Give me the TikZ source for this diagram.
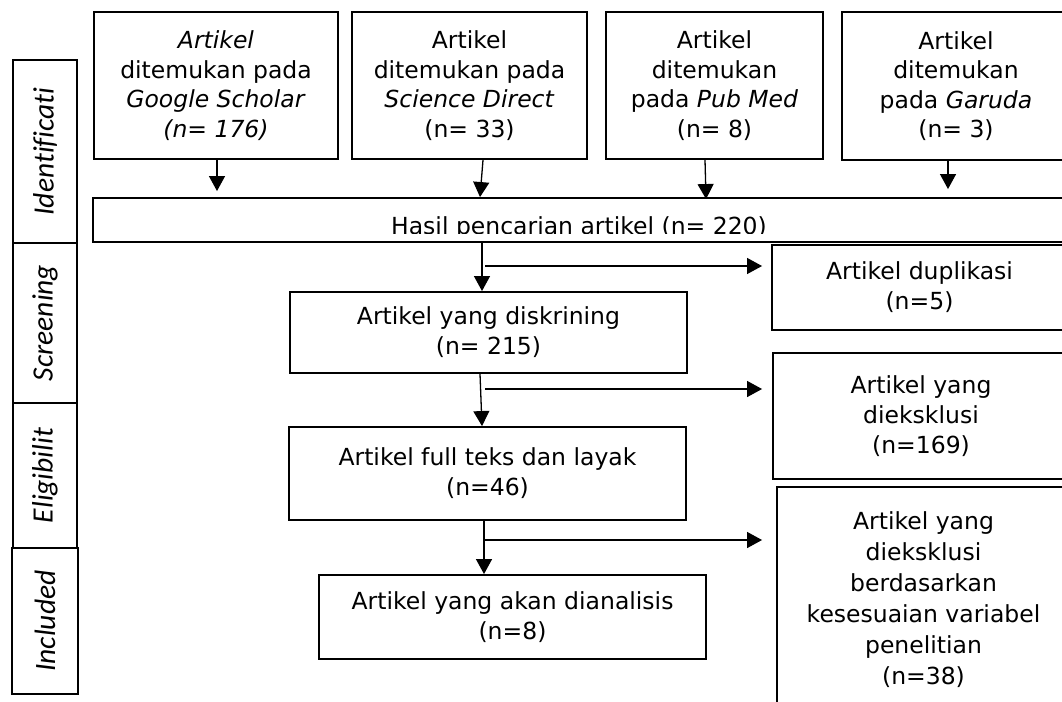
\documentclass[tikz,border=0pt]{standalone}
\usepackage{fontspec}
\setmainfont{DejaVu Sans}
\newfontfamily\labfont[Ligatures=NoCommon]{Carlito}
\usetikzlibrary{arrows.meta}
\begin{document}
\begin{tikzpicture}[x=1pt,y=-1pt,
  box/.style={draw, line width=1.9pt, inner sep=0pt, align=center,
    font=\fontsize{23.5}{29.5}\selectfont},
  phase/.style={draw, line width=1.9pt, inner sep=0pt, rotate=90,
    font=\labfont\itshape\fontsize{29.5}{32}\selectfont},
  arr/.style={line width=1.3pt, -{Triangle[length=15pt,width=16pt]}}]
\useasboundingbox (0,0) rectangle (1062,701);
\clip (0,0) rectangle (1062,701);
% top boxes
\node[box, minimum width=244pt, minimum height=147pt] (b1) at (216,85.5)
  {\textit{Artikel}\\ditemukan pada\\\textit{Google Scholar}\\\textit{(n= 176)}};
\node[box, minimum width=235pt, minimum height=147pt] (b2) at (469.5,85.5)
  {Artikel\\ditemukan pada\\\textit{Science Direct}\\(n= 33)};
\node[box, minimum width=217pt, minimum height=147pt] (b3) at (714.5,85.5)
  {Artikel\\ditemukan\\pada \textit{Pub Med}\\(n= 8)};
\node[box, minimum width=228pt, minimum height=148pt] (b4) at (956,86)
  {Artikel\\ditemukan\\pada \textit{Garuda}\\(n= 3)};
% search result
\node[box, minimum width=972pt, minimum height=44pt] (hasil) at (579,220) {};
\begin{scope}
  \clip (hasil.north west) rectangle ([yshift=9.5pt]hasil.south east);
  \node[font=\fontsize{23.5}{29.5}\selectfont, anchor=base, inner sep=0pt] (htext) at (579,234)
    {Hasil pencarian artikel (n= 220)};
\end{scope}
% phase boxes
\node[phase, minimum width=183pt, minimum height=64pt] (p1) at (45,151.5) {Identificati};
\node[phase, minimum width=160pt, minimum height=64pt] (p2) at (45,323) {Screening};
\node[phase, minimum width=145pt, minimum height=64pt] (p3) at (45,475.5) {Eligibilit};
\node[phase, minimum width=146pt, minimum height=66pt] (p4) at (45,621) {Included};
% middle boxes
\node[box, minimum width=397pt, minimum height=81pt, font=\fontsize{23.5}{30}\selectfont] (disk) at (488.5,332.5)
  {Artikel yang diskrining\\(n= 215)};
\node[box, minimum width=397pt, minimum height=93pt, font=\fontsize{23.5}{30}\selectfont] (full) at (487.5,473.5)
  {Artikel full teks dan layak\\(n=46)};
\node[box, minimum width=387pt, minimum height=84pt, font=\fontsize{23.5}{30}\selectfont] (anal) at (512.5,617)
  {Artikel yang akan dianalisis\\(n=8)};
% right boxes
\node[box, minimum width=295pt, minimum height=85pt, font=\fontsize{23.5}{30}\selectfont] (dup) at (919.5,287.5)
  {Artikel duplikasi\\(n=5)};
\node[box, minimum width=296pt, minimum height=126pt, font=\fontsize{23.5}{30}\selectfont] (exc1) at (921,416)
  {Artikel yang\\dieksklusi\\(n=169)};
\node[box, minimum width=293pt, minimum height=226pt, font=\fontsize{23.5}{31}\selectfont] (exc2) at (923.5,600)
  {Artikel yang\\dieksklusi\\berdasarkan\\kesesuaian variabel\\penelitian\\(n=38)};
% arrows top -> hasil
\draw[arr, shorten >=6pt] ([xshift=1pt]b1.south) -- ([xshift=1pt]b1.south |- hasil.north);
\draw[arr] ([xshift=13.5pt]b2.south) -- ([xshift=10.5pt]b2.south |- hasil.north);
\draw[arr, shorten >=-2pt] ([xshift=-9.5pt]b3.south) -- ([xshift=-8.5pt]b3.south |- hasil.north);
\draw[arr, shorten >=8pt] ([xshift=-8pt]b4.south) -- ([xshift=-8pt]b4.south |- hasil.north);
% main flow
\coordinate (j1) at (485,266);
\coordinate (j2) at (485,389);
\coordinate (j3) at (485,540);
\draw[arr] ([xshift=-6.5pt]disk.north |- hasil.south) -- ([xshift=-6.5pt]disk.north);
\draw[arr] ([xshift=-8.5pt]disk.south) -- ([xshift=-5.5pt]full.north);
\draw[arr] ([xshift=-3.5pt]full.south) -- ([xshift=-3.5pt]full.south |- anal.north);
\draw[arr, shorten >=9pt] (j1) -- (j1 -| dup.west);
\draw[arr, shorten >=10pt] (j2) -- (j2 -| exc1.west);
\draw[arr, shorten >=14pt] (j3) -- (j3 -| exc2.west);
\end{tikzpicture}
\end{document}
